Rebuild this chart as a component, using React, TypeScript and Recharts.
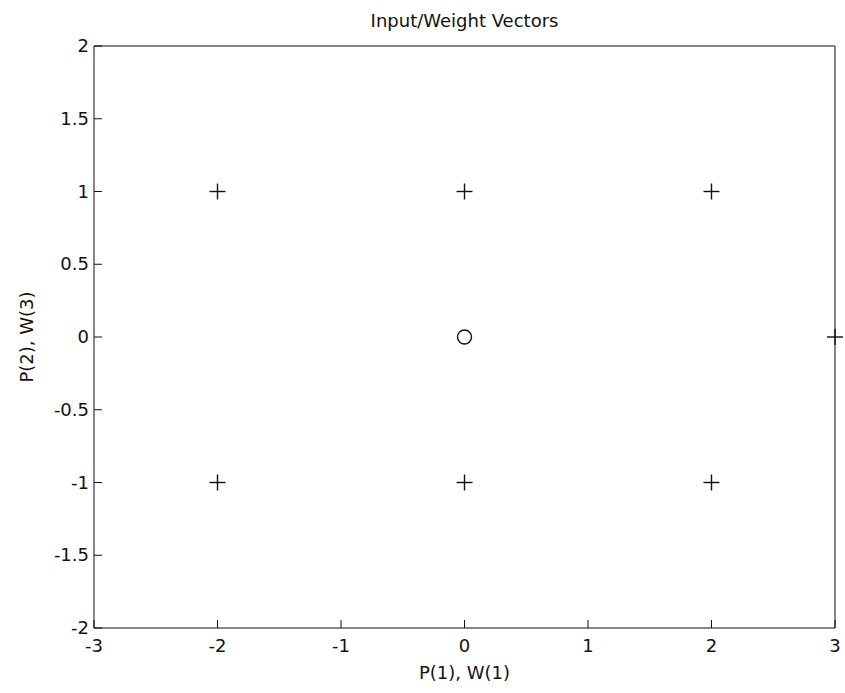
import React from 'react';
import { ScatterChart, Scatter, XAxis, YAxis } from 'recharts';

const plusPoints = [
  { x: -2, y: 1 },
  { x: 0, y: 1 },
  { x: 2, y: 1 },
  { x: -2, y: -1 },
  { x: 0, y: -1 },
  { x: 2, y: -1 },
  { x: 3, y: 0 },
];
const circlePoints = [{ x: 0, y: 0 }];
const xTicks = [-3, -2, -1, 0, 1, 2, 3];
const yTicks = [-2, -1.5, -1, -0.5, 0, 0.5, 1, 1.5, 2];

const FONT = '"DejaVu Sans", sans-serif';
const INK = '#111';
const TICK = 8;

const Plus = ({ cx, cy }: any) => (
  <g stroke={INK} strokeWidth={1.4}>
    <line x1={cx - 8} y1={cy} x2={cx + 8} y2={cy} />
    <line x1={cx} y1={cy - 8} x2={cx} y2={cy + 8} />
  </g>
);

const Ring = ({ cx, cy }: any) => (
  <circle cx={cx} cy={cy} r={7} fill="none" stroke={INK} strokeWidth={1.4} />
);

const LeftTick = ({ x, y, payload }: any) => (
  <g>
    <line x1={x} y1={y} x2={x + TICK} y2={y} stroke={INK} />
    <text x={x - 5} y={y + 6} textAnchor="end" fontFamily={FONT} fontSize={18} fill={INK}>
      {payload.value}
    </text>
  </g>
);

const BottomTick = ({ x, y, payload }: any) => (
  <g>
    <line x1={x} y1={y} x2={x} y2={y - TICK} stroke={INK} />
    <text x={x} y={y + 24} textAnchor="middle" fontFamily={FONT} fontSize={18} fill={INK}>
      {payload.value}
    </text>
  </g>
);

const TopTick = ({ x, y }: any) => <line x1={x} y1={y} x2={x} y2={y + TICK} stroke={INK} />;
const RightTick = ({ x, y }: any) => <line x1={x} y1={y} x2={x - TICK} y2={y} stroke={INK} />;

export default function App() {
  return (
    <div style={{ position: 'absolute', left: 0, top: 0, width: 845, height: 693, background: '#fff' }}>
      <ScatterChart width={845} height={693} margin={{ top: 45, right: 9, bottom: 64, left: 93 }}>
        <XAxis
          xAxisId={0}
          type="number"
          dataKey="x"
          domain={[-3, 3]}
          ticks={xTicks}
          height={1}
          tickSize={0}
          tickMargin={0}
          tick={<BottomTick />}
          axisLine={{ stroke: INK }}
          tickLine={false}
        />
        <XAxis
          xAxisId="top"
          orientation="top"
          type="number"
          domain={[-3, 3]}
          ticks={xTicks}
          height={1}
          tickSize={0}
          tickMargin={0}
          tick={<TopTick />}
          axisLine={{ stroke: INK }}
          tickLine={false}
        />
        <YAxis
          yAxisId={0}
          type="number"
          dataKey="y"
          domain={[-2, 2]}
          ticks={yTicks}
          width={1}
          tickSize={0}
          tickMargin={0}
          tick={<LeftTick />}
          axisLine={{ stroke: INK }}
          tickLine={false}
        />
        <YAxis
          yAxisId="right"
          orientation="right"
          type="number"
          domain={[-2, 2]}
          ticks={yTicks}
          width={1}
          tickSize={0}
          tickMargin={0}
          tick={<RightTick />}
          axisLine={{ stroke: INK }}
          tickLine={false}
        />
        <Scatter data={plusPoints} shape={<Plus />} isAnimationActive={false} />
        <Scatter data={circlePoints} shape={<Ring />} isAnimationActive={false} />
      </ScatterChart>
      <div style={{ position: 'absolute', left: 0, width: 929, top: 10, textAlign: 'center', fontFamily: FONT, fontSize: 18, color: INK }}>
        Input/Weight Vectors
      </div>
      <div style={{ position: 'absolute', left: 0, width: 929, top: 662, textAlign: 'center', fontFamily: FONT, fontSize: 18, color: INK }}>
        P(1), W(1)
      </div>
      <div
        style={{
          position: 'absolute',
          left: 26,
          top: 337,
          transform: 'translate(-50%, -50%) rotate(-90deg)',
          whiteSpace: 'nowrap',
          fontFamily: FONT,
          fontSize: 18,
          color: INK,
        }}
      >
        P(2), W(3)
      </div>
    </div>
  );
}
